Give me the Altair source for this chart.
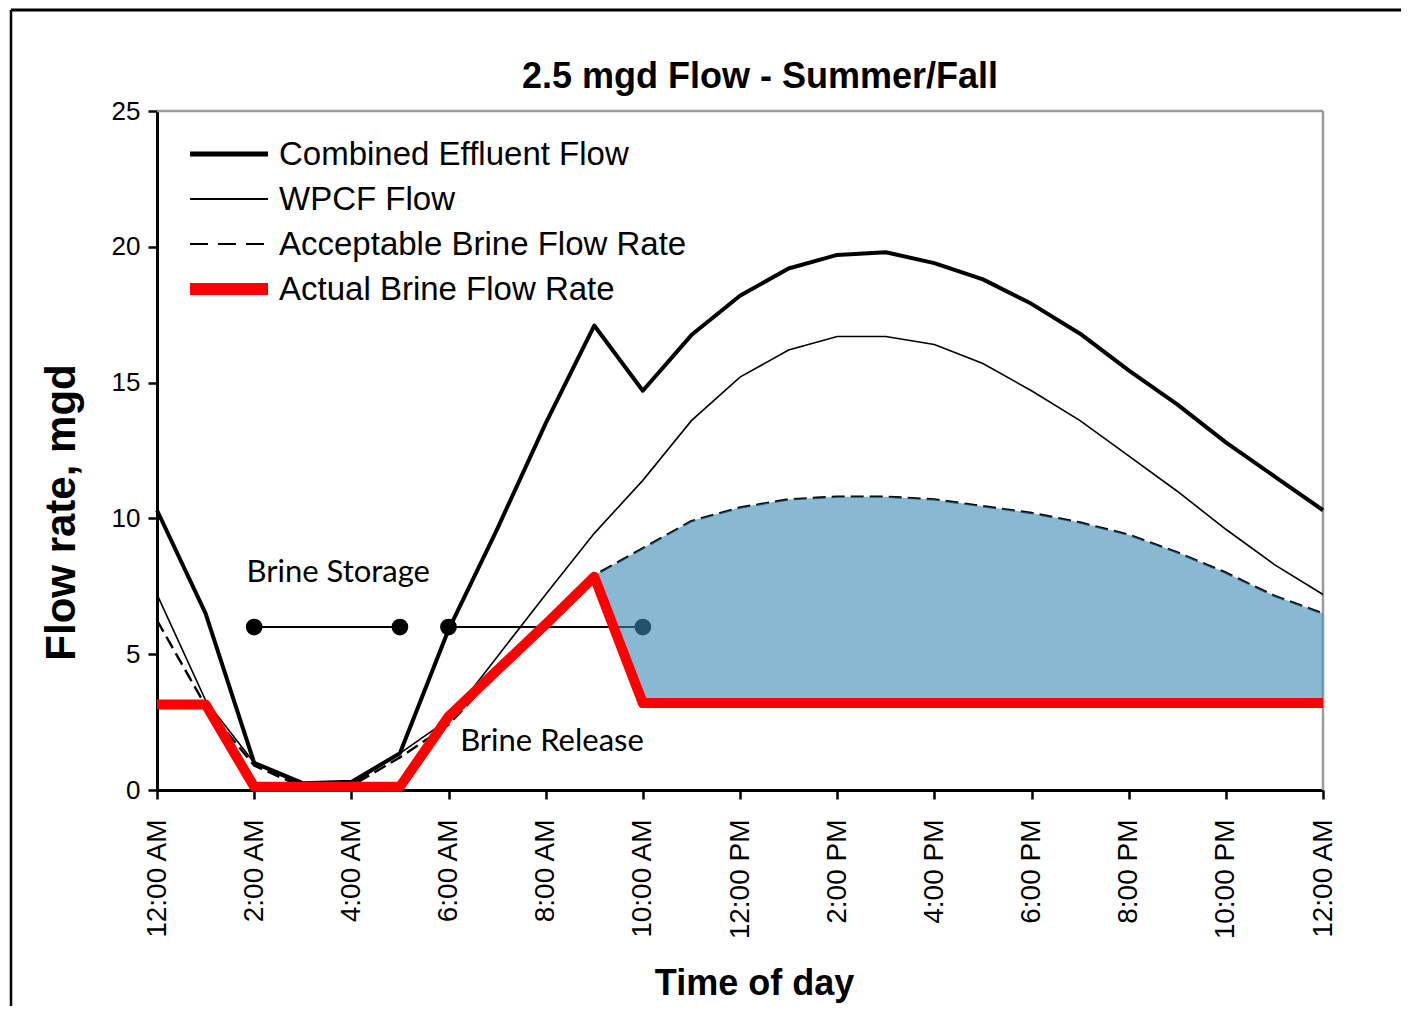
import json
import altair as alt
import pandas as pd

# ---------------- data ----------------
hours = list(range(25))
combined = [10.3, 6.5, 1.0, 0.25, 0.3, 1.35, 5.9, 9.6, 13.5, 17.1, 14.7, 16.75, 18.2,
            19.2, 19.7, 19.8, 19.4, 18.8, 17.9, 16.8, 15.45, 14.2, 12.8, 11.55, 10.3]
wpcf = [7.2, 3.3, 1.0, 0.15, 0.2, 1.35, 2.6, 4.9, 7.2, 9.45, 11.4, 13.6, 15.2,
        16.2, 16.7, 16.7, 16.4, 15.7, 14.7, 13.6, 12.3, 11.0, 9.6, 8.3, 7.2]
acceptable = [6.25, 3.1, 0.9, 0.1, 0.15, 1.2, 2.4, 4.3, 6.1, 7.9, 8.9, 9.9, 10.4,
              10.7, 10.8, 10.8, 10.7, 10.45, 10.2, 9.85, 9.4, 8.75, 8.0, 7.15, 6.5]
actual = [3.15, 3.15, 0.12, 0.12, 0.12, 0.12, 2.7, 4.4, 6.1, 7.85, 3.2, 3.2, 3.2,
          3.2, 3.2, 3.2, 3.2, 3.2, 3.2, 3.2, 3.2, 3.2, 3.2, 3.2, 3.2]

tick_hours = list(range(0, 25, 2))
tick_labels = ["12:00 AM", "2:00 AM", "4:00 AM", "6:00 AM", "8:00 AM", "10:00 AM",
               "12:00 PM", "2:00 PM", "4:00 PM", "6:00 PM", "8:00 PM", "10:00 PM",
               "12:00 AM"]
y_ticks = [0, 5, 10, 15, 20, 25]

storage_start = [2, 6]
storage_end = [5, 10]
storage_level = [6, 6]

notes = ["Brine Storage", "Brine Release"]
note_x = [3.73, 8.13]
note_y = [8.0, 1.77]

legend_labels = ["Combined Effluent Flow", "WPCF Flow",
                 "Acceptable Brine Flow Rate", "Actual Brine Flow Rate"]

chart_title = "2.5 mgd Flow - Summer/Fall"

shade_from = 9  # hour where the shaded region begins

# ---------------- fonts / sizes ----------------
SANS = "Liberation Sans, Arial, sans-serif"
CAL = "Lato, Open Sans, sans-serif"

W, H = 1166, 679

df = pd.DataFrame({"hour": hours, "combined": combined, "wpcf": wpcf,
                   "acceptable": acceptable, "actual": actual})
shade = df[df["hour"] >= shade_from]

seg = pd.DataFrame({"x": storage_start, "x2": storage_end, "y": storage_level})
dots = pd.DataFrame({"x": storage_start + storage_end, "y": storage_level + storage_level})
note_df = pd.DataFrame({"x": note_x, "y": note_y, "t": notes})

x_scale = alt.Scale(domain=[0, 24], nice=False, zero=False)
y_scale = alt.Scale(domain=[0, 25], nice=False)

x_axis = alt.Axis(values=tick_hours, labelExpr=f"{json.dumps(tick_labels)}[datum.value/2]",
                  labelAngle=270, labelFont=SANS, labelFontSize=28, labelColor="black",
                  labelPadding=20, tickSize=9, tickWidth=2.5, tickColor="black",
                  domainColor="black", domainWidth=3, grid=False,
                  title="Time of day", titleFont=SANS, titleFontSize=36,
                  titleFontWeight="bold", titleColor="black",
                  titleX=597, titleY=193, titleBaseline="middle", titleAlign="center")
y_axis = alt.Axis(values=y_ticks, labelFont=SANS, labelFontSize=26, labelColor="black",
                  labelPadding=8, tickSize=9, tickWidth=2.5, tickColor="black",
                  domainColor="black", domainWidth=3, grid=False,
                  title="Flow rate, mgd", titleFont=SANS, titleFontSize=42,
                  titleFontWeight="bold", titleColor="black", titleAngle=270,
                  titleX=-96, titleY=401, titleBaseline="middle", titleAlign="center")

X = alt.X("hour:Q", scale=x_scale, axis=x_axis)
base = alt.Chart(df)

one = pd.DataFrame({"t": [chart_title]})
# outer frame of the figure (top and left edges; right/bottom lie outside the page)
frame_top = alt.Chart(one).mark_rule(color="black", strokeWidth=3).encode(
    x=alt.value(-146), x2=alt.value(1300), y=alt.value(-101))
frame_left = alt.Chart(one).mark_rule(color="black", strokeWidth=2.5).encode(
    x=alt.value(-146), y=alt.value(-101), y2=alt.value(1000))
# plot-area border (gray, top and right)
box_top = alt.Chart(one).mark_rule(color="#9a9a9a", strokeWidth=2.5).encode(
    x=alt.value(0), x2=alt.value(W), y=alt.value(0))
box_right = alt.Chart(one).mark_rule(color="#9a9a9a", strokeWidth=2.5).encode(
    x=alt.value(W), y=alt.value(0), y2=alt.value(H))

title = alt.Chart(one).mark_text(font=SANS, fontSize=36, fontWeight="bold", color="black",
                                 align="center", baseline="alphabetic").encode(
    x=alt.value(603), y=alt.value(-23), text="t:N")

l_comb = base.mark_line(color="black", strokeWidth=4, strokeJoin="round").encode(
    x=X, y=alt.Y("combined:Q", scale=y_scale, axis=y_axis))
l_wpcf = base.mark_line(color="black", strokeWidth=1.6).encode(
    x="hour:Q", y="wpcf:Q")
l_acc = base.mark_line(color="black", strokeWidth=2.4, strokeDash=[13, 6]).encode(
    x="hour:Q", y="acceptable:Q")

r_seg = alt.Chart(seg).mark_rule(color="black", strokeWidth=2).encode(
    x="x:Q", x2="x2:Q", y="y:Q")
p_dots = alt.Chart(dots).mark_circle(color="black", size=280, opacity=1).encode(
    x="x:Q", y="y:Q")

area = alt.Chart(shade).mark_area(color="#3a88b4", opacity=0.6).encode(
    x="hour:Q", y="acceptable:Q", y2="actual:Q")

l_act = base.mark_line(color="#ff0000", strokeWidth=10, strokeJoin="round").encode(
    x="hour:Q", y="actual:Q")

t_notes = alt.Chart(note_df).mark_text(font=CAL, fontSize=31, color="black",
                                       align="center", baseline="middle").encode(
    x="x:Q", y="y:Q", text="t:N")

# ---------- legend (drawn in pixel space of the plot) ----------
leg = pd.DataFrame({"t": legend_labels, "ly": [43 + 45 * i for i in range(4)]})
leg_styles = [dict(color="black", strokeWidth=5),
              dict(color="black", strokeWidth=1.8),
              dict(color="black", strokeWidth=2, strokeDash=[18, 10]),
              dict(color="#ff0000", strokeWidth=12)]
leg_rules = []
for i, st in enumerate(leg_styles):
    leg_rules.append(
        alt.Chart(leg.iloc[[i]]).mark_rule(**st).encode(
            x=alt.value(33), x2=alt.value(111), y=alt.Y("ly:Q", scale=None)))
leg_text = alt.Chart(leg).mark_text(font=SANS, fontSize=33, color="black",
                                    align="left", baseline="middle", dy=1).encode(
    x=alt.value(122), y=alt.Y("ly:Q", scale=None), text="t:N")

chart = alt.layer(
    frame_top, frame_left, box_top, box_right, title, l_comb, l_wpcf, l_acc, r_seg,
    p_dots, area, l_act, t_notes, *leg_rules, leg_text
).properties(
    width=W, height=H,
    autosize=alt.AutoSizeParams(type="none"),
    padding={"left": 149, "top": 103, "right": 78, "bottom": 216},
).configure_view(strokeWidth=0).configure(background="white")

chart.save("out.html", embed_options={"renderer": "svg", "actions": False})
